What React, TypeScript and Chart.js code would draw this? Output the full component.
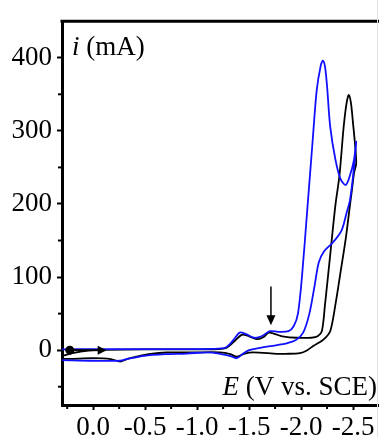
import { useEffect, useRef } from 'react';
import { Chart, registerables } from 'chart.js';

Chart.register(...registerables);

// Blue voltammogram (E in V vs. SCE, i in mA), forward scan then return scan
const blueE = [
  0.30, 0.0, -0.5, -1.0, -1.2, -1.28, -1.35, -1.41, -1.47, -1.55, -1.62, -1.70, -1.78, -1.88,
  -1.93, -1.97, -2.01, -2.06, -2.11, -2.15, -2.19, -2.21, -2.23, -2.25, -2.28, -2.33, -2.38,
  -2.43, -2.47, -2.51, -2.53,
  -2.50, -2.47, -2.44, -2.39, -2.31, -2.22, -2.17, -2.13, -2.08, -2.02, -1.95, -1.85, -1.77,
  -1.60, -1.50, -1.44, -1.38, -1.32, -1.22, -1.10, -0.90, -0.70, -0.49, -0.33, -0.26, 0.0, 0.30,
];
const blueI = [
  1, 1.5, 1.5, 1.5, 2, 4, 14, 24, 22, 17, 19, 26, 25, 26,
  33, 50, 103, 193, 284, 355, 390, 396, 388, 361, 306, 261, 234,
  226, 239, 261, 285,
  238, 205, 189, 164, 148, 135, 120, 88, 50, 24, 14, 9, 7,
  3, 0, -5, -11, -8, -5, -3, -4.6, -5.5, -7.7, -12, -14.5, -14.5, -13.5,
];

// Black voltammogram
const blackE = [
  0.30, 0.20, 0.05, -0.10, -0.5, -1.0, -1.2, -1.28, -1.35, -1.43, -1.50, -1.58, -1.64, -1.69,
  -1.75, -1.82, -1.96, -2.10, -2.16, -2.20, -2.23, -2.28, -2.33, -2.37, -2.41, -2.44, -2.46,
  -2.48, -2.50, -2.52, -2.53,
  -2.51, -2.49, -2.47, -2.43, -2.38, -2.33, -2.28, -2.22, -2.17, -2.12, -2.06, -1.99, -1.85,
  -1.77, -1.54, -1.45, -1.38, -1.32, -1.22, -1.0, -0.71, -0.55, -0.45, -0.33, -0.26, -0.17,
  0.0, 0.22, 0.30,
];
const blackI = [
  -8, -4, -0.5, 0.5, 1, 1, 1.5, 3, 11, 21, 19, 15, 18, 24,
  22, 19, 17, 17, 19, 26, 62, 130, 198, 240, 306, 340, 349,
  338, 310, 280, 255,
  243, 220, 198, 153, 107, 62, 26, 15, 10, 6, 0, -4, -5,
  -5, -3, -5, -9, -5.4, -3, -3, -3.2, -5, -7.7, -12, -15.5, -12.2,
  -11, -12, -12,
];

const xMajorTicks = [0, -0.5, -1.0, -1.5, -2.0, -2.5];
const xMinorTicks = [0.25, -0.25, -0.75, -1.25, -1.75, -2.25];
const yMajorTicks = [0, 100, 200, 300, 400];
const yMinorTicks = [-50, 50, 150, 250, 350];

// Annotations (data coordinates)
const startMarker = { e: 0.225, i: 0 };
const startArrowTipE = -0.13;
const downArrow = { e: -1.71, top: 87, tip: 34 };

const yAxisTitleItalic = 'i';
const yAxisTitleRest = ' (mA)';
const xAxisTitleItalic = 'E';
const xAxisTitleRest = ' (V vs. SCE)';

const FONT = "'Liberation Serif', 'Times New Roman', serif";
const FS = 27;

const decorPlugin = {
  id: 'decor',
  afterDraw(chart: any) {
    const { ctx, chartArea, scales } = chart;
    const xs = scales.x;
    const ys = scales.y;
    ctx.save();
    // top border
    ctx.strokeStyle = '#000';
    ctx.lineWidth = 3;
    ctx.beginPath();
    ctx.moveTo(chartArea.left - 1.5, chartArea.top);
    ctx.lineTo(chartArea.right + 2, chartArea.top);
    ctx.stroke();
    // faint right edge
    ctx.strokeStyle = '#e2e2e2';
    ctx.lineWidth = 1;
    ctx.beginPath();
    ctx.moveTo(chartArea.right - 0.5, 0);
    ctx.lineTo(chartArea.right - 0.5, chart.height);
    ctx.stroke();

    // minor ticks
    ctx.strokeStyle = '#000';
    ctx.lineWidth = 2;
    yMinorTicks.forEach((v) => {
      const py = ys.getPixelForValue(v);
      ctx.beginPath();
      ctx.moveTo(chartArea.left - 4, py);
      ctx.lineTo(chartArea.left, py);
      ctx.stroke();
    });
    xMinorTicks.forEach((v) => {
      const px = xs.getPixelForValue(v);
      ctx.beginPath();
      ctx.moveTo(px, chartArea.bottom);
      ctx.lineTo(px, chartArea.bottom + 4);
      ctx.stroke();
    });

    // start marker and arrow
    const mx = xs.getPixelForValue(startMarker.e);
    const my = ys.getPixelForValue(startMarker.i);
    const tipX = xs.getPixelForValue(startArrowTipE);
    ctx.fillStyle = '#000';
    ctx.beginPath();
    ctx.arc(mx, my, 4.5, 0, Math.PI * 2);
    ctx.fill();
    ctx.lineWidth = 2;
    ctx.beginPath();
    ctx.moveTo(mx, my);
    ctx.lineTo(tipX - 8, my);
    ctx.stroke();
    ctx.beginPath();
    ctx.moveTo(tipX, my);
    ctx.lineTo(tipX - 9, my - 4.5);
    ctx.lineTo(tipX - 9, my + 4.5);
    ctx.closePath();
    ctx.fill();

    // down arrow
    const ax = xs.getPixelForValue(downArrow.e);
    const aTop = ys.getPixelForValue(downArrow.top);
    const aTip = ys.getPixelForValue(downArrow.tip);
    ctx.lineWidth = 1.5;
    ctx.beginPath();
    ctx.moveTo(ax, aTop);
    ctx.lineTo(ax, aTip - 8);
    ctx.stroke();
    ctx.beginPath();
    ctx.moveTo(ax, aTip);
    ctx.lineTo(ax - 4.5, aTip - 10);
    ctx.lineTo(ax + 4.5, aTip - 10);
    ctx.closePath();
    ctx.fill();

    // axis titles
    ctx.fillStyle = '#000';
    ctx.textBaseline = 'alphabetic';
    ctx.textAlign = 'left';
    // y title
    let tx = chartArea.left + 10;
    const ty = chartArea.top + 34;
    ctx.font = `italic ${FS}px ${FONT}`;
    ctx.fillText(yAxisTitleItalic, tx, ty);
    tx += ctx.measureText(yAxisTitleItalic).width;
    ctx.font = `${FS}px ${FONT}`;
    ctx.fillText(yAxisTitleRest, tx, ty);
    // x title (right aligned)
    ctx.font = `${FS}px ${FONT}`;
    const restW = ctx.measureText(xAxisTitleRest).width;
    ctx.font = `italic ${FS}px ${FONT}`;
    const itW = ctx.measureText(xAxisTitleItalic).width;
    const ex = chartArea.right - 1 - restW - itW;
    const ey = chartArea.bottom - 10;
    ctx.fillText(xAxisTitleItalic, ex, ey);
    ctx.font = `${FS}px ${FONT}`;
    ctx.fillText(xAxisTitleRest, ex + itW, ey);
    ctx.restore();
  },
};

export default function App() {
  const ref = useRef<HTMLCanvasElement | null>(null);

  useEffect(() => {
    document.body.style.margin = '0';
    const canvas = ref.current;
    if (!canvas) return;
    const toPts = (es: number[], is: number[]) => es.map((e, k) => ({ x: e, y: is[k] }));
    const chart = new Chart(canvas, {
      type: 'line',
      data: {
        datasets: [
          {
            label: 'blue',
            data: toPts(blueE, blueI),
            borderColor: '#1010ff',
            borderWidth: 1.8,
            pointRadius: 0,
            tension: 0.3,
            fill: false,
          },
          {
            label: 'black',
            data: toPts(blackE, blackI),
            borderColor: '#000000',
            borderWidth: 1.8,
            pointRadius: 0,
            tension: 0.3,
            fill: false,
          },
        ],
      },
      options: {
        responsive: false,
        animation: false,
        devicePixelRatio: 1,
        parsing: false,
        layout: { padding: { top: 17, right: 1, left: 0, bottom: 0 } },
        plugins: { legend: { display: false }, tooltip: { enabled: false } },
        scales: {
          x: {
            type: 'linear',
            reverse: true,
            min: -2.74,
            max: 0.3,
            afterBuildTicks: (scale: any) => {
              scale.ticks = xMajorTicks.map((v) => ({ value: v }));
            },
            afterFit: (scale: any) => {
              scale.height = 32;
            },
            ticks: {
              autoSkip: false,
              maxRotation: 0,
              padding: 2,
              color: '#000',
              font: { family: FONT, size: FS },
              callback: (v: any) => Number(v).toFixed(1),
            },
            grid: {
              drawOnChartArea: false,
              drawTicks: true,
              tickLength: 5,
              tickWidth: 2,
              tickColor: '#000',
            },
            border: { display: true, width: 3, color: '#000' },
          },
          y: {
            type: 'linear',
            min: -75,
            max: 450,
            afterBuildTicks: (scale: any) => {
              scale.ticks = yMajorTicks.map((v) => ({ value: v }));
            },
            afterFit: (scale: any) => {
              scale.width = 62;
            },
            ticks: {
              padding: 5,
              color: '#000',
              font: { family: FONT, size: FS },
              callback: (v: any) => String(v),
            },
            grid: {
              drawOnChartArea: false,
              drawTicks: true,
              tickLength: 5,
              tickWidth: 2,
              tickColor: '#000',
            },
            border: { display: true, width: 3, color: '#000' },
          },
        },
      },
      plugins: [decorPlugin],
    });
    return () => chart.destroy();
  }, []);

  return (
    <div style={{ position: 'absolute', left: 0, top: 0, width: 379, height: 437, overflow: 'hidden', background: '#fff' }}>
      <canvas ref={ref} width={379} height={437} />
    </div>
  );
}
